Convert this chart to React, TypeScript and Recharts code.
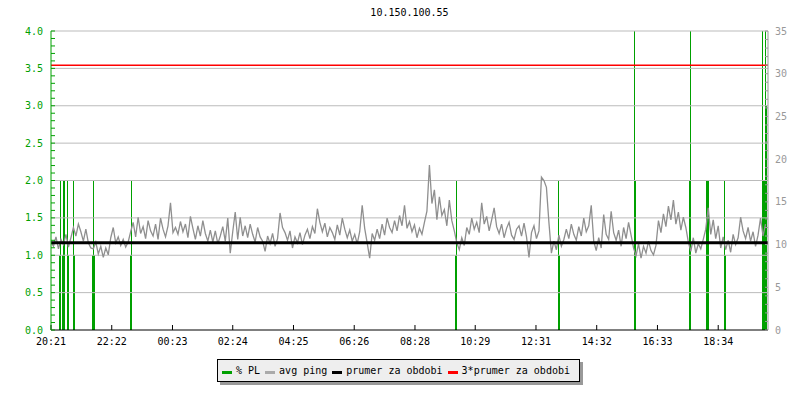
import React from 'react';
import { ComposedChart, Bar, Line, XAxis, YAxis, ReferenceLine } from 'recharts';

// avg ping [ms], one sample every 5 minutes starting 20:21
const PING_STEP_MIN = 5;
const PING = [
  10.3, 9.8, 10.9, 9.5, 10.6, 10.0, 11.2, 9.7, 10.8, 12.0, 11.0, 12.4,
  11.5, 10.4, 11.8, 10.2, 9.6, 9.5, 10.3, 8.9, 9.8, 8.5, 9.6, 8.8,
  10.8, 12.0, 10.2, 10.9, 9.9, 10.6, 9.7, 10.3,
  11.5, 12.6, 10.9, 13.2, 11.3, 12.1, 10.7, 12.8, 11.6,
  11.0, 12.4, 10.6, 13.1, 11.8, 10.9, 12.2, 14.9, 11.4, 12.0, 11.2, 12.7,
  11.5, 12.4, 10.8, 13.3, 11.9, 10.6, 12.2, 11.0, 12.8, 11.3, 10.4, 11.7,
  10.3, 11.6, 10.1, 11.0, 12.1, 10.4,
  13.1, 9.0, 11.5, 13.8, 10.6, 13.2, 11.0, 12.2,
  10.8, 12.4, 11.2, 10.3, 12.0, 10.9,
  10.4, 9.2, 11.0, 10.1, 11.3, 9.8, 10.7,
  13.7, 12.0, 11.4,
  10.5, 11.6, 9.6, 10.9, 10.2, 11.4, 10.0, 11.1,
  11.8, 10.7, 12.1, 11.3,
  14.2, 12.6, 11.5,
  12.5, 10.9, 12.0, 11.4, 10.6, 12.3, 11.1,
  13.1, 11.8,
  10.8, 11.7, 10.4, 11.2, 10.1, 11.5,
  14.6, 11.9,
  10.2, 8.4,
  11.3, 10.5, 11.8, 10.7,
  12.4, 11.1, 13.1, 12.0, 11.4, 12.8,
  11.6, 13.4, 12.2, 14.6, 11.9, 12.7,
  11.5, 12.3, 10.8, 11.9, 11.2, 12.6,
  13.9, 19.3,
  14.8, 16.4, 12.9, 15.6, 13.4,
  14.1, 12.2, 15.2, 12.8, 11.6,
  10.2, 9.4, 10.8, 9.9,
  12.0, 11.2, 13.1, 11.8, 12.6, 11.4,
  14.9,
  12.4, 13.3, 11.6, 12.9, 14.3, 12.1,
  11.3, 12.4, 10.8, 11.9, 12.6, 11.1, 10.6, 11.8, 12.2,
  11.0, 12.5, 10.9, 8.5,
  11.4, 12.2, 10.7, 11.6,
  17.9, 17.5, 16.7,
  12.6, 9.0, 10.4, 9.4, 11.1, 9.8, 10.6,
  11.8, 10.7, 12.4, 11.2, 10.5, 12.1, 11.0, 13.1, 11.5, 12.2,
  14.6, 10.4, 9.3, 10.8, 9.6,
  13.5, 11.2, 10.6, 13.9, 11.4,
  10.5, 11.7, 9.8, 12.0, 10.7, 12.6, 11.1,
  9.6, 8.7, 10.1, 8.4, 9.8, 9.0, 10.4, 9.3, 8.8, 9.9,
  12.8, 11.4, 13.6, 12.1, 14.5, 12.9, 15.2, 12.4, 13.8, 11.7, 13.2, 12.0,
  10.3, 9.2, 10.8, 9.0, 10.1, 9.5, 10.6,
  11.8, 14.3, 11.2, 12.9, 10.7, 12.2, 9.6,
  10.9, 9.4, 10.5, 9.1, 11.2, 10.0, 10.8,
  13.2, 11.6,
  10.7, 12.0, 10.4, 11.5, 9.8, 11.1,
  13.1, 11.0, 12.4,
];

// packet loss [%] events: minutes after 20:21 and value
const PL_MIN = [
  18, 20, 24, 26, 28, 34, 36, 46, 48, 84, 86, 88, 159, 161,
  813, 815, 1020, 1022,
  1171, 1173, 1283, 1285, 1317, 1319, 1321, 1353, 1355,
  1428, 1430, 1432, 1434, 1436, 1438,
];
const PL_VALUE = [
  1, 2, 1, 2, 2, 2, 1, 2, 1, 1, 2, 1, 1, 2,
  1, 2, 2, 1,
  4, 2, 2, 4, 2, 2, 2, 2, 1,
  4, 2, 2, 2, 4, 3,
];

const AVG_PING = 10.2;
const AVG_PING_3X = 31.0;

const TIME_TICKS = [0, 122, 244, 365, 487, 609, 731, 852, 974, 1096, 1218, 1340];
const TIME_LABELS = ['20:21', '22:22', '00:23', '02:24', '04:25', '06:26', '08:28', '10:29', '12:31', '14:32', '16:33', '18:34'];

const LEFT_TICKS = Array.from({ length: 41 }, (_, i) => i / 10);
const LEFT_GRID = [0.5, 1, 1.5, 2, 2.5, 3, 3.5, 4];
const RIGHT_TICKS = Array.from({ length: 36 }, (_, i) => i);

const GREEN = '#00a000';
const GRAY = '#999999';
const FONT = '"DejaVu Sans Mono", monospace';

const data = [
  ...PING.map((v, i) => ({ t: i * PING_STEP_MIN, ping: v })),
  ...PL_MIN.map((t, i) => ({ t, pl: PL_VALUE[i] })),
].sort((a, b) => a.t - b.t);

const PlShape = (props: any) => {
  const { x, width, y, height, fill } = props;
  if (!height || height <= 0) return null;
  const cx = Math.floor(x + width / 2);
  return <rect x={cx} y={y} width={1} height={height} fill={fill} />;
};

const LEGEND = [
  { label: '% PL', color: GREEN },
  { label: 'avg ping', color: '#aaaaaa' },
  { label: 'prumer za obdobi', color: '#000000' },
  { label: '3*prumer za obdobi', color: '#ff0000' },
];

export default function App() {
  return (
    <div style={{ position: 'absolute', left: 0, top: 0, width: 800, height: 400, background: '#fff', fontFamily: FONT }}>
      <div style={{ position: 'absolute', top: 7, left: 0, width: 819, textAlign: 'center', fontSize: 10, lineHeight: '12px' }}>
        10.150.100.55
      </div>
      <ComposedChart
        width={800}
        height={400}
        data={data}
        margin={{ top: 31, right: 0, bottom: 50, left: 0 }}
      >
        <XAxis
          dataKey="t"
          type="number"
          domain={[0, 1440]}
          ticks={TIME_TICKS}
          interval={0}
          tickFormatter={(v) => TIME_LABELS[TIME_TICKS.indexOf(v)] ?? ''}
          tickSize={-5}
          tickMargin={13}
          height={20}
          axisLine={{ stroke: '#000' }}
          tickLine={{ stroke: '#000' }}
          tick={{ fill: '#000', fontSize: 10, fontFamily: FONT }}
          allowDataOverflow
        />
        <YAxis
          yAxisId="left"
          orientation="left"
          type="number"
          domain={[0, 4]}
          ticks={LEFT_TICKS}
          interval={0}
          tickFormatter={(v) => (Math.abs(v * 2 - Math.round(v * 2)) < 1e-6 ? v.toFixed(1) : '')}
          width={51}
          tickSize={-4}
          tickMargin={12}
          axisLine={{ stroke: GREEN }}
          tickLine={{ stroke: GREEN }}
          tick={{ fill: GREEN, fontSize: 10, fontFamily: FONT }}
          allowDataOverflow
        />
        <YAxis
          yAxisId="right"
          orientation="right"
          type="number"
          domain={[0, 35]}
          ticks={RIGHT_TICKS}
          interval={0}
          tickFormatter={(v) => (v % 5 === 0 ? String(v) : '')}
          width={32}
          tickSize={-3}
          tickMargin={10}
          axisLine={{ stroke: GRAY }}
          tickLine={{ stroke: GRAY }}
          tick={{ fill: GRAY, fontSize: 10, fontFamily: FONT }}
          allowDataOverflow
        />
        {LEFT_GRID.map((v) => (
          <ReferenceLine key={v} yAxisId="left" y={v} stroke="#bbbbbb" strokeWidth={1} />
        ))}
        <Bar
          yAxisId="left"
          dataKey="pl"
          fill={GREEN}
          barSize={1}
          shape={PlShape}
          isAnimationActive={false}
        />
        <Line
          yAxisId="right"
          dataKey="ping"
          type="linear"
          stroke="#8f8f8f"
          strokeWidth={1.3}
          dot={false}
          connectNulls
          isAnimationActive={false}
        />
        <ReferenceLine yAxisId="right" y={AVG_PING} stroke="#000" strokeWidth={3} />
        <ReferenceLine yAxisId="right" y={AVG_PING_3X} stroke="#ff0000" strokeWidth={1.5} />
      </ComposedChart>
      <div
        style={{
          position: 'absolute',
          left: 217,
          top: 359,
          width: 363,
          height: 23,
          boxSizing: 'border-box',
          border: '1px solid #000',
          background: '#eeeeee',
          boxShadow: '3px 3px 0 #999',
        }}
      >
        <div style={{ position: 'absolute', left: 4, top: 5, display: 'flex', alignItems: 'center', fontSize: 10, lineHeight: '12px', whiteSpace: 'nowrap' }}>
          {LEGEND.map((item) => (
            <span key={item.label} style={{ display: 'flex', alignItems: 'center', marginRight: 5 }}>
              <span style={{ display: 'inline-block', width: 10, height: 3, background: item.color, marginRight: 4, marginTop: 2 }} />
              <span>{item.label}</span>
            </span>
          ))}
        </div>
      </div>
    </div>
  );
}
